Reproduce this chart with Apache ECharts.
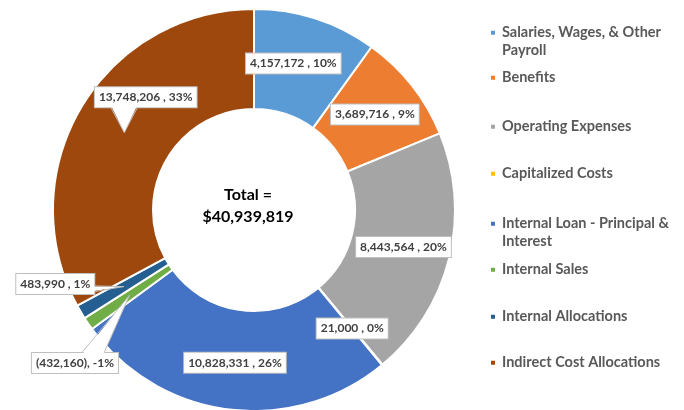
<!DOCTYPE html>
<html>
<head>
<meta charset="utf-8">
<script src="https://cdn.jsdelivr.net/npm/echarts@6/dist/echarts.min.js"></script>
<style>
  html, body { margin: 0; padding: 0; background: #fff; }
  #chart { width: 684px; height: 410px; }
</style>
</head>
<body>
<div id="chart"></div>
<script>
// Budget breakdown by cost category (signed amounts, USD)
const categories = [
  'Salaries, Wages, & Other Payroll',
  'Benefits',
  'Operating Expenses',
  'Capitalized Costs',
  'Internal Loan - Principal & Interest',
  'Internal Sales',
  'Internal Allocations',
  'Indirect Cost Allocations'
];
const amounts = [4157172, 3689716, 8443564, 21000, 10828331, -432160, 483990, 13748206];
const sliceColors = ['#5B9BD5', '#ED7D31', '#A5A5A5', '#FFC000', '#4472C4', '#70AD47', '#255E91', '#9E480E'];

// ---- layout & style ----
const FONT = 'Lato, "Open Sans", sans-serif';
const PIE_CENTER = [254, 210];
const PIE_RADIUS = [101, 201];
const LEGEND_LEFT = 489;
const LEGEND_ROW_Y = [31, 76, 125, 172, 222, 268, 315, 361];
const LEGEND_FONT = 14.5;
const LEGEND_LINE_H = 18;
const LEGEND_WRAP_W = 182;
// label shifts (px) from the ring midpoint; 5-7 are callouts with pointers
const labelNudge = { 0: [-8, 0], 5: [-52, 66], 6: [-66, -4], 7: [24, -34] };
const calloutIdx = [5, 6, 7];

const absTotal = amounts.reduce((s, v) => s + Math.abs(v), 0);
const netTotal = amounts.reduce((s, v) => s + v, 0);

function fmtNum(v) { return Math.abs(v).toLocaleString('en-US'); }
function labelText(i) {
  const v = amounts[i];
  const pct = Math.round(v / absTotal * 100);
  return v < 0 ? '(' + fmtNum(v) + '), ' + pct + '%' : fmtNum(v) + ' , ' + pct + '%';
}

// word-wrap legend names to a fixed width
const measureCtx = document.createElement('canvas').getContext('2d');
measureCtx.font = 'bold ' + LEGEND_FONT + 'px ' + FONT;
function wrapName(name) {
  const words = name.split(' ');
  const lines = [];
  let cur = '';
  words.forEach(w => {
    const test = cur ? cur + ' ' + w : w;
    if (cur && measureCtx.measureText(test).width > LEGEND_WRAP_W) { lines.push(cur); cur = w; }
    else cur = test;
  });
  lines.push(cur);
  return lines;
}

// one legend block per row; wrapped names get a leading blank line so the
// swatch lines up with the first line of text
const legends = categories.map((name, i) => {
  const lines = wrapName(name);
  const extra = lines.length - 1;
  return {
    data: [name],
    left: LEGEND_LEFT,
    top: LEGEND_ROW_Y[i] - extra * LEGEND_LINE_H - LEGEND_FONT / 2,
    orient: 'vertical',
    padding: 0,
    icon: 'rect',
    itemWidth: 6,
    itemHeight: 6,
    selectedMode: false,
    formatter: n => {
      const ls = wrapName(n);
      return (ls.length > 1 ? '\n'.repeat(ls.length - 1) : '') + ls.join('\n');
    },
    textStyle: {
      fontFamily: FONT, fontWeight: 'bold', fontSize: LEGEND_FONT, color: '#595959',
      lineHeight: LEGEND_LINE_H, padding: [0, 0, 0, 1]
    }
  };
});

const boxRects = {};

const option = {
  animation: false,
  legend: legends,
  series: [{
    type: 'pie',
    center: PIE_CENTER,
    radius: PIE_RADIUS,
    startAngle: 90,
    clockwise: true,
    avoidLabelOverlap: false,
    emphasis: { disabled: true },
    data: categories.map((name, i) => ({
      name: name,
      value: Math.abs(amounts[i]),
      itemStyle: { color: sliceColors[i] }
    })),
    itemStyle: { borderColor: '#fff', borderWidth: 2 },
    label: {
      show: true,
      position: 'inside',
      formatter: p => labelText(p.dataIndex),
      fontFamily: FONT, fontWeight: 'bold', fontSize: 12, color: '#404040',
      backgroundColor: '#fff', borderColor: '#bfbfbf', borderWidth: 1,
      padding: [4, 4, 4, 4]
    },
    labelLine: { show: false },
    labelLayout: function (p) {
      const n = labelNudge[p.dataIndex];
      if (!n) return {};
      const r = p.labelRect;
      boxRects[p.dataIndex] = { x: r.x + n[0], y: r.y + n[1], w: r.width, h: r.height };
      return { x: r.x + r.width / 2 + n[0], y: r.y + r.height / 2 + n[1] };
    }
  }]
};

const chart = echarts.init(document.getElementById('chart'));
chart.setOption(option);

// wedge pointer from a moved callout box back to its slice's ring midpoint
function calloutWedge(layout, box) {
  const mid = (layout.startAngle + layout.endAngle) / 2;
  const rm = (layout.r + layout.r0) / 2;
  const tip = [layout.cx + rm * Math.cos(mid), layout.cy + rm * Math.sin(mid)];
  const hc = box.x + box.w / 2, vc = box.y + box.h / 2;
  const dx = tip[0] - hc, dy = tip[1] - vc;
  const dq = dx * box.h / box.w;
  let a, b, ai, bi;
  if (Math.abs(dy) > Math.abs(dq)) {
    const x1 = box.x + box.w * (dx > 0 ? 7 : 2) / 12;
    const x2 = box.x + box.w * (dx > 0 ? 10 : 5) / 12;
    const ey = dy > 0 ? box.y + box.h : box.y;
    const inw = dy > 0 ? -1.5 : 1.5;
    a = [x1, ey]; b = [x2, ey]; ai = [x1 + 0.5, ey + inw]; bi = [x2 - 0.5, ey + inw];
  } else {
    const y1 = box.y + box.h * (dy > 0 ? 7 : 2) / 12;
    const y2 = box.y + box.h * (dy > 0 ? 10 : 5) / 12;
    const ex = dx > 0 ? box.x + box.w : box.x;
    const inw = dx > 0 ? -1.5 : 1.5;
    a = [ex, y1]; b = [ex, y2]; ai = [ex + inw, y1 + 0.5]; bi = [ex + inw, y2 - 0.5];
  }
  return [
    { type: 'polygon', silent: true, z: 10, shape: { points: [ai, tip, bi] }, style: { fill: '#fff' } },
    { type: 'polyline', silent: true, z: 10, shape: { points: [a, tip, b] }, style: { stroke: '#bfbfbf', lineWidth: 1, fill: null } }
  ];
}

const pieData = chart.getModel().getSeriesByIndex(0).getData();
const graphics = [{
  type: 'text',
  silent: true,
  z: 10,
  x: PIE_CENTER[0] - 6,
  y: PIE_CENTER[1] - 4,
  style: {
    text: 'Total =\n$' + netTotal.toLocaleString('en-US'),
    align: 'center', verticalAlign: 'middle',
    fontFamily: FONT, fontWeight: 'bold', fontSize: 16, lineHeight: 22, fill: '#000'
  }
}];
calloutIdx.forEach(i => {
  if (boxRects[i]) graphics.push(...calloutWedge(pieData.getItemLayout(i), boxRects[i]));
});
chart.setOption({ graphic: graphics });
</script>
</body>
</html>
